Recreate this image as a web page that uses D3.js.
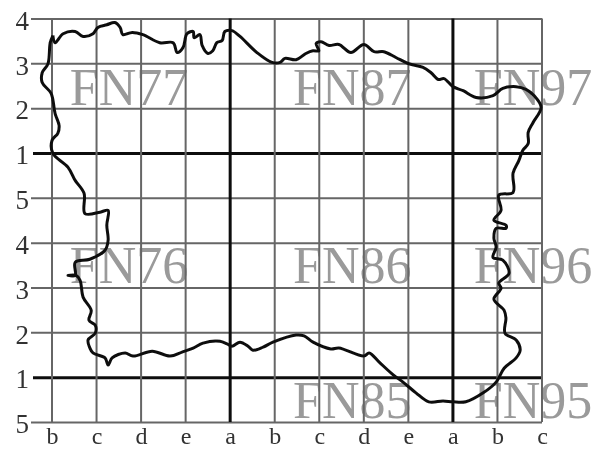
<!DOCTYPE html>
<html>
<head>
<meta charset="utf-8">
<script src="https://cdn.jsdelivr.net/npm/d3@7"></script>
<style>
html, body { margin: 0; padding: 0; background: #fff; }
svg { display: block; }
text { font-family: "Liberation Serif", serif; }
</style>
</head>
<body>
<script>
// grid is in cell units: x 0..11 from the left edge, y 0..9 from the bottom edge
var xLabels = ["b", "c", "d", "e", "a", "b", "c", "d", "e", "a", "b", "c"];
var yLabels = ["5", "1", "2", "3", "4", "5", "1", "2", "3", "4"];
var heavyX = [4, 9];
var heavyY = [1, 6];

var sheetNames = ["FN77", "FN87", "FN97", "FN76", "FN86", "FN96", "FN85", "FN95"];
var sheetX = [0.40, 5.41, 9.47, 0.40, 5.41, 9.47, 5.41, 9.47];
var sheetY = [7.06, 7.06, 7.06, 3.10, 3.10, 3.10, 0.09, 0.09];

var outlineX = [0.02, 0.07, 0.25, 0.52, 0.70, 0.92, 1.03, 1.23, 1.41, 1.53, 1.59, 1.80, 2.04, 2.42, 2.72, 2.81, 2.94, 3.03, 3.17, 3.19,
    3.32, 3.37, 3.50, 3.61, 3.70, 3.82, 3.88, 4.04, 4.22, 4.60, 4.94, 5.12, 5.23, 5.48, 5.70, 5.86, 5.99, 5.93, 6.04, 6.22,
    6.44, 6.71, 7.00, 7.23, 7.45, 7.72, 8.01, 8.33, 8.51, 8.67, 8.80, 9.00, 9.23, 9.52, 9.90, 10.12, 10.42, 10.64, 10.82, 10.98,
    10.80, 10.69, 10.69, 10.57, 10.48, 10.35, 10.35, 10.03, 10.08, 9.92, 10.19, 10.19, 9.97, 9.92, 9.97, 9.90, 10.12, 10.26, 10.03, 10.08,
    9.92, 10.15, 10.19, 10.17, 10.42, 10.51, 10.42, 10.15, 9.97, 9.68, 9.29, 9.00, 8.78, 8.46, 8.17, 7.88, 7.66, 7.34, 7.12, 7.00,
    6.44, 6.26, 5.86, 5.66, 5.48, 4.96, 4.74, 4.51, 4.40, 4.22, 4.04, 3.93, 3.77, 3.39, 3.17, 2.92, 2.65, 2.25, 1.82, 1.64,
    1.35, 1.26, 1.19, 0.92, 0.85, 0.81, 0.97, 0.97, 0.83, 0.88, 0.70, 0.63, 0.54, 0.36, 0.52, 0.52, 0.85, 1.19, 1.26, 1.23,
    1.26, 1.08, 0.74, 0.72, 0.52, 0.36, 0.02, 0.00, 0.13, 0.16, 0.07, -0.02, -0.22, -0.22, -0.09, -0.04, 0.02];
var outlineY = [8.62, 8.46, 8.66, 8.71, 8.60, 8.66, 8.80, 8.86, 8.91, 8.80, 8.64, 8.69, 8.64, 8.46, 8.46, 8.24, 8.35, 8.66, 8.71, 8.57,
    8.64, 8.40, 8.22, 8.28, 8.46, 8.51, 8.71, 8.73, 8.60, 8.24, 8.02, 8.02, 8.11, 8.08, 8.22, 8.28, 8.28, 8.44, 8.48, 8.40,
    8.42, 8.24, 8.42, 8.26, 8.26, 8.13, 7.99, 7.91, 7.79, 7.64, 7.66, 7.48, 7.39, 7.24, 7.28, 7.44, 7.48, 7.42, 7.28, 7.02,
    6.68, 6.46, 6.21, 6.06, 5.83, 5.55, 5.12, 5.06, 4.72, 4.50, 4.39, 4.32, 4.32, 4.10, 3.90, 3.67, 3.61, 3.32, 3.10, 2.98,
    2.74, 2.49, 2.32, 1.98, 1.83, 1.60, 1.43, 1.20, 0.89, 0.65, 0.45, 0.45, 0.47, 0.45, 0.65, 0.89, 1.05, 1.34, 1.54, 1.47,
    1.65, 1.63, 1.78, 1.92, 1.94, 1.78, 1.67, 1.60, 1.69, 1.78, 1.69, 1.74, 1.80, 1.76, 1.65, 1.56, 1.47, 1.58, 1.47, 1.54,
    1.43, 1.27, 1.43, 1.54, 1.65, 1.83, 1.98, 2.16, 2.27, 2.49, 2.78, 3.16, 3.27, 3.27, 3.27, 3.56, 3.63, 3.83, 4.05, 4.39,
    4.72, 4.68, 4.65, 5.10, 5.39, 5.68, 5.99, 6.28, 6.44, 6.61, 6.88, 7.33, 7.57, 7.79, 7.99, 8.46, 8.62];

var w = 592,
    h = 450;

var x = d3.scaleLinear().domain([0, 11]).range([52, 542]);
var y = d3.scaleLinear().domain([0, 9]).range([422, 18.5]);

var svg = d3.select("body")
    .append("svg")
    .attr("width", w)
    .attr("height", h);

// the reference is a slightly soft scan
var soft = svg.append("defs").append("filter").attr("id", "soft");
soft.append("feGaussianBlur").attr("stdDeviation", 0.6);

var g = svg.append("g").attr("filter", "url(#soft)");

g.selectAll("text.sheet")
    .data(sheetNames)
    .enter()
    .append("text")
    .attr("class", "sheet")
    .text(function (d) { return d; })
    .attr("x", function (d, i) { return x(sheetX[i]); })
    .attr("y", function (d, i) { return y(sheetY[i]); })
    .attr("font-size", "52px")
    .attr("fill", "#9a9a9a");

var yAxis = d3.axisLeft(y)
    .tickValues(d3.range(yLabels.length))
    .tickFormat(function (d) { return yLabels[d]; })
    .tickSize(21)
    .tickPadding(2);

var yg = g.append("g").attr("transform", "translate(" + x(0) + ",0)").call(yAxis);
yg.select(".domain").remove();
yg.selectAll(".tick line")
    .attr("x2", x(11) - x(0))
    .attr("x1", function (d) { return heavyY.indexOf(d) >= 0 ? -19 : -21; })
    .attr("stroke", function (d) { return heavyY.indexOf(d) >= 0 ? "#111" : "#666"; })
    .attr("stroke-width", function (d) { return heavyY.indexOf(d) >= 0 ? 3 : 2; });
yg.selectAll(".tick text")
    .attr("font-size", "27px")
    .attr("dy", "0.4em")
    .attr("fill", "#333")
    .style("font-family", "'Liberation Serif', serif");

var xAxis = d3.axisBottom(x)
    .tickValues(d3.range(xLabels.length))
    .tickFormat(function (d) { return xLabels[d]; })
    .tickSize(0)
    .tickPadding(5);

var xg = g.append("g").attr("transform", "translate(0," + y(0) + ")").call(xAxis);
xg.select(".domain").remove();
xg.selectAll(".tick text")
    .attr("font-size", "24px")
    .attr("fill", "#333")
    .style("font-family", "'Liberation Serif', serif");

g.selectAll("line.vert")
    .data(d3.range(xLabels.length))
    .enter()
    .append("line")
    .attr("class", "vert")
    .attr("x1", function (d) { return x(d); })
    .attr("x2", function (d) { return x(d); })
    .attr("y1", y(9))
    .attr("y2", y(0))
    .attr("stroke", function (d) { return heavyX.indexOf(d) >= 0 ? "#111" : "#666"; })
    .attr("stroke-width", function (d) { return heavyX.indexOf(d) >= 0 ? 3 : 2; });

var outline = d3.line()
    .x(function (d, i) { return x(outlineX[i]); })
    .y(function (d, i) { return y(outlineY[i]); })
    .curve(d3.curveCatmullRom.alpha(0.5));

g.append("path")
    .attr("d", outline(outlineX))
    .attr("fill", "none")
    .attr("stroke", "#111")
    .attr("stroke-width", 3)
    .attr("stroke-linejoin", "round");
</script>
</body>
</html>
